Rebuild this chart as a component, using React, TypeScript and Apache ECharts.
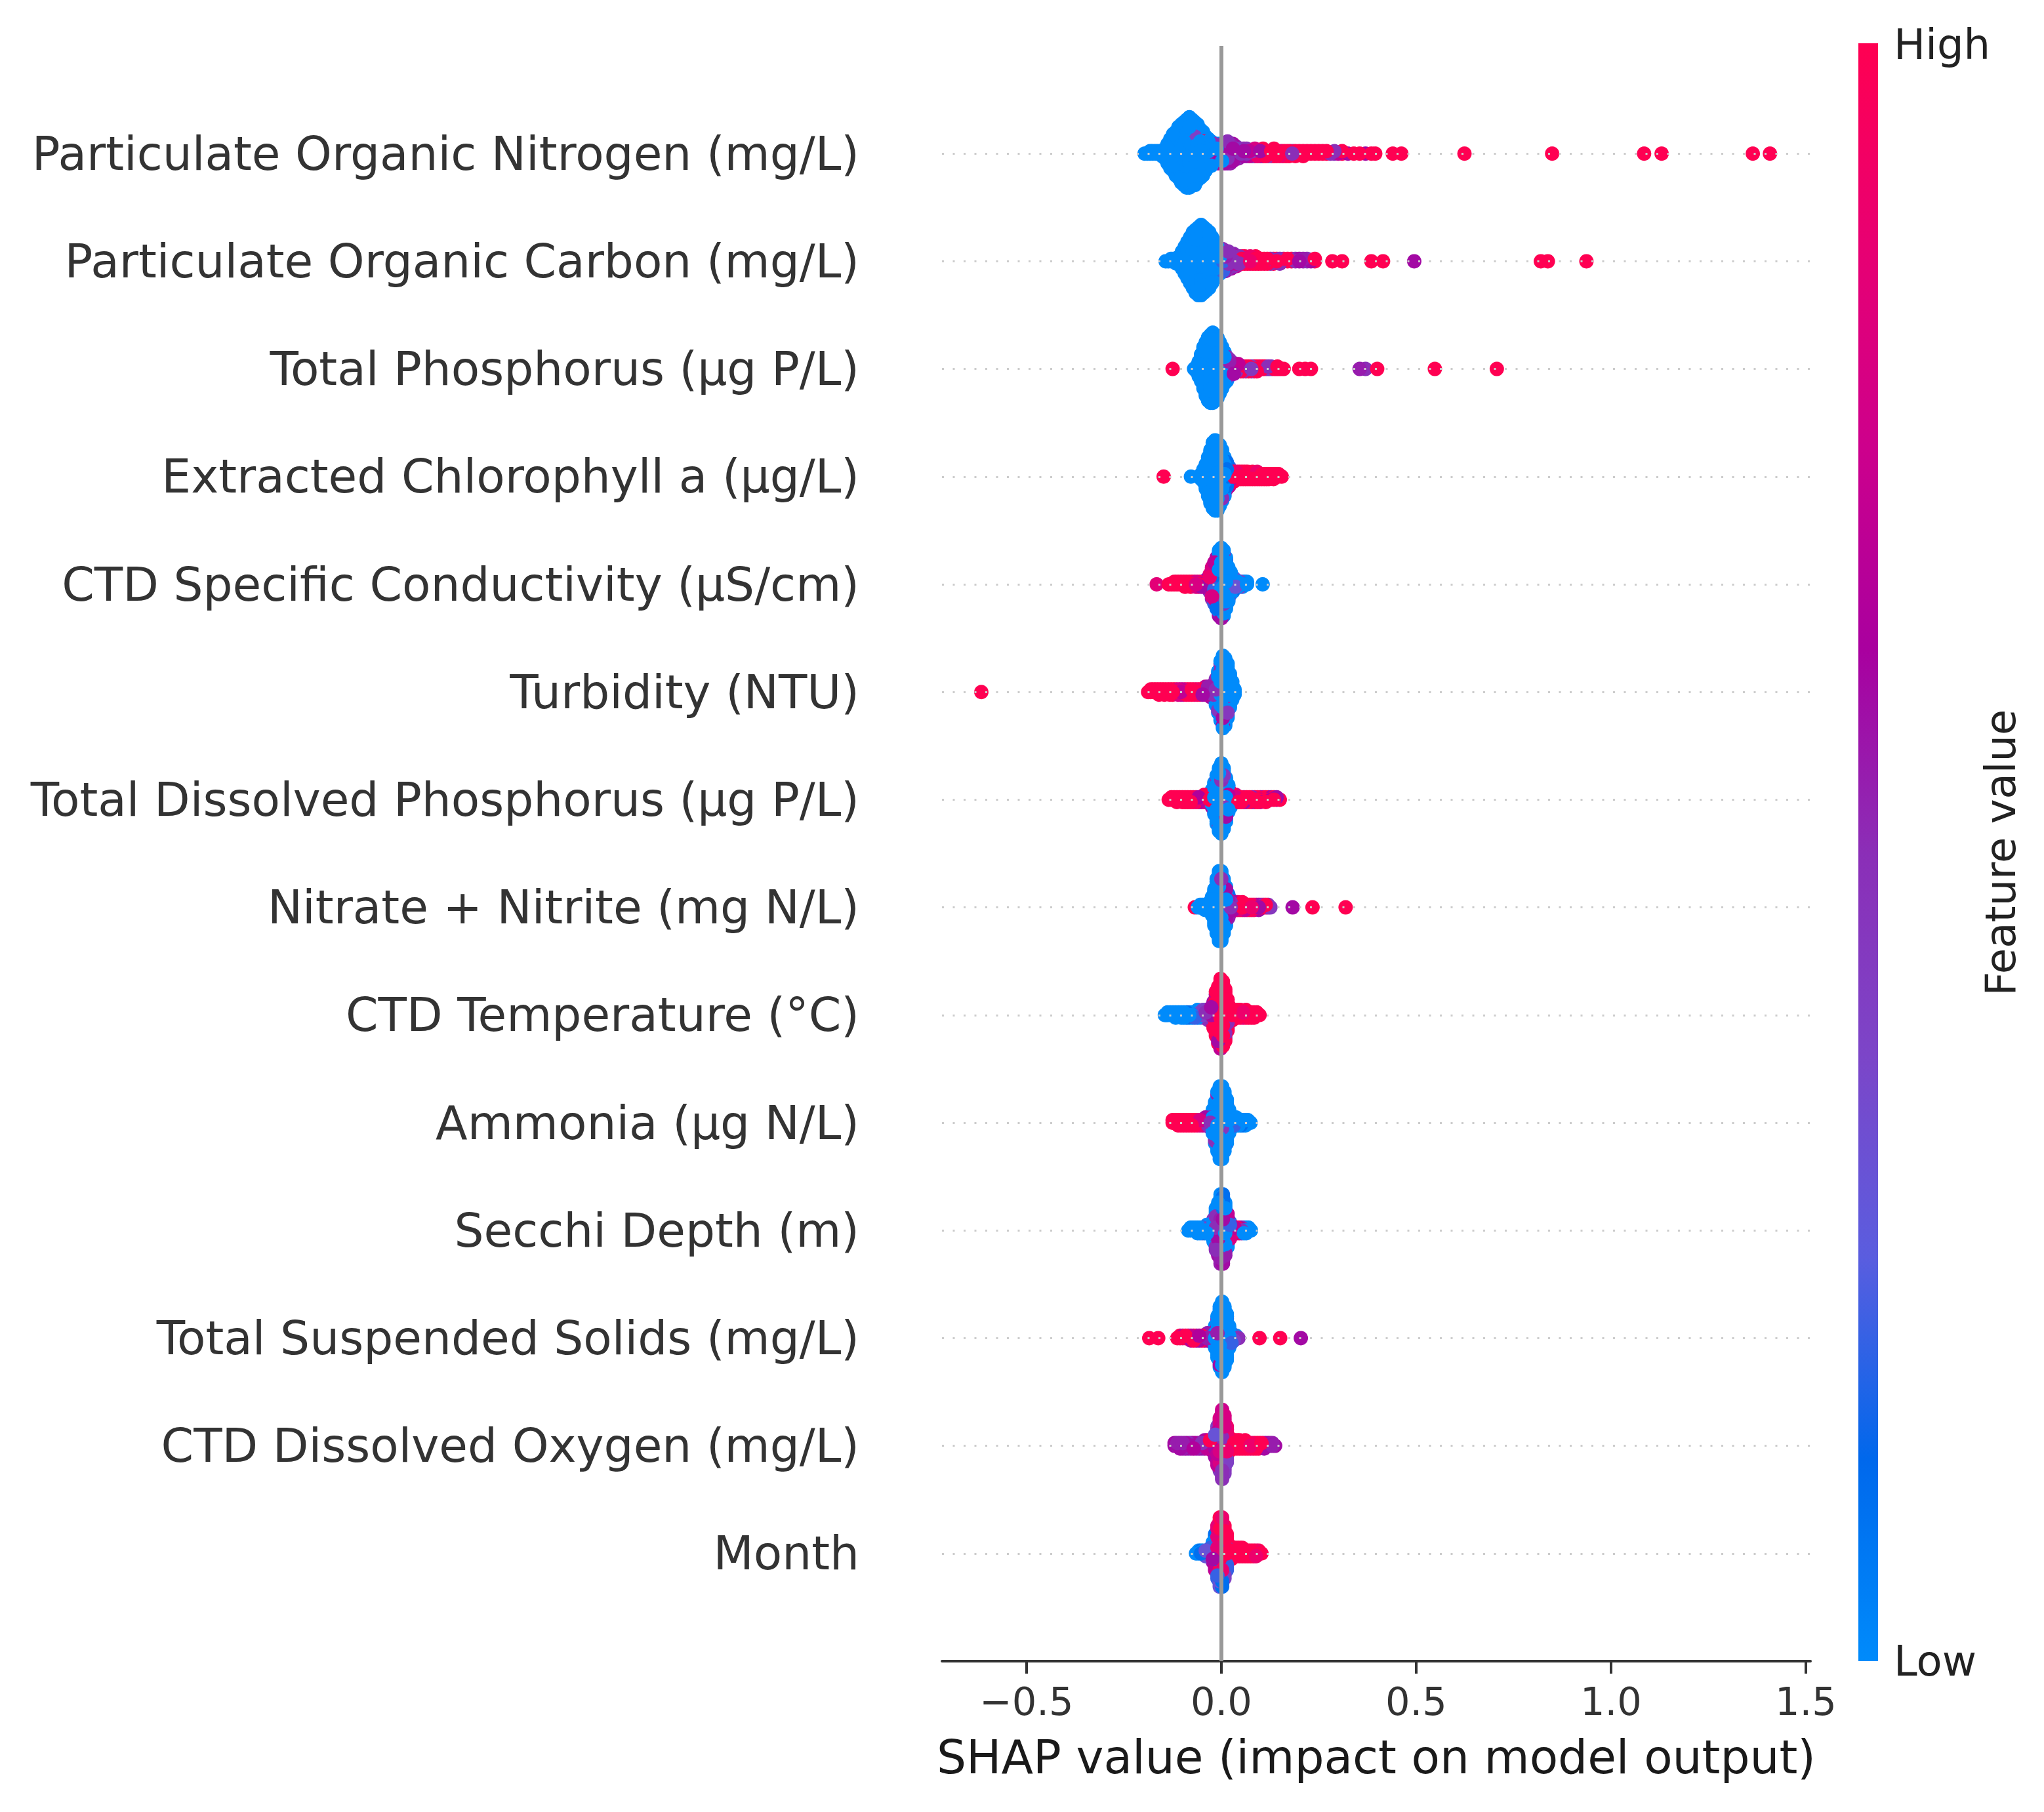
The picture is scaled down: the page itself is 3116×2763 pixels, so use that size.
import React, { useEffect, useRef } from 'react';
import * as echarts from 'echarts';

// Feature names, top to bottom
const featureNames: string[] = [
  'Particulate Organic Nitrogen (mg/L)',
  'Particulate Organic Carbon (mg/L)',
  'Total Phosphorus (µg P/L)',
  'Extracted Chlorophyll a (µg/L)',
  'CTD Specific Conductivity (µS/cm)',
  'Turbidity (NTU)',
  'Total Dissolved Phosphorus (µg P/L)',
  'Nitrate + Nitrite (mg N/L)',
  'CTD Temperature (°C)',
  'Ammonia (µg N/L)',
  'Secchi Depth (m)',
  'Total Suspended Solids (mg/L)',
  'CTD Dissolved Oxygen (mg/L)',
  'Month',
];

const xTicks: number[] = [-0.5, 0, 0.5, 1, 1.5];
const xTickLabels: string[] = ['\u22120.5', '0.0', '0.5', '1.0', '1.5'];
const colorLabels: string[] = ['High', 'Low'];

// [SHAP value, number of samples at that value, feature value (0 = low, 1 = high)]
type Stack = [number, number, number];

const ponStacks: Stack[] = [
  [-0.197,1,0],[-0.19,1,0],[-0.183,2,0],[-0.176,2,0],[-0.168,2,0],[-0.16,2,0],[-0.152,3,0],[-0.145,5,0],[-0.138,9,0],[-0.131,13,0],[-0.124,16,0],[-0.117,19,0],[-0.11,22,0],[-0.103,25,0],[-0.096,27,0],[-0.089,29,0],[-0.082,29,0],[-0.082,1,0.45],[-0.075,28,0],[-0.068,26,0],[-0.068,1,0.4],[-0.061,24,0],[-0.054,21,0],[-0.047,18,0],[-0.047,1,1],[-0.04,15,0],[-0.033,12,0],[-0.026,10,0],[-0.026,1,0.6],
  [-0.019,6,0],[-0.019,3,0.5],[-0.012,4,0],[-0.012,5,0.55],[-0.005,3,0],[-0.005,6,0.6],[0.002,2,0],[0.002,7,0.5],[0.009,2,0.2],[0.009,7,0.6],[0.016,8,0.5],[0.016,2,0.7],[0.023,9,0.55],[0.03,8,0.6],[0.037,6,0.45],[0.044,5,0.55],[0.051,4,0.5],[0.058,4,0.6],
  [0.065,4,0.5],[0.072,3,0.7],[0.079,3,0.45],[0.086,4,0.8],[0.093,3,0.9],[0.1,3,0.6],[0.107,4,1],[0.114,3,1],[0.121,3,0.45],[0.128,3,1],[0.135,4,1],[0.142,3,1],[0.15,3,0.9],[0.158,3,1],[0.166,3,1],[0.174,3,1],[0.182,2,0.5],[0.19,3,1],[0.2,2,1],[0.21,3,1],[0.22,2,1],[0.23,2,1],[0.24,2,1],[0.25,2,1],[0.26,2,1],[0.27,2,1],[0.28,1,0.5],[0.29,2,0.5],[0.3,1,0.7],[0.31,2,1],[0.325,1,0.6],[0.34,1,1],[0.355,1,1],[0.37,1,0.6],[0.385,1,1],[0.395,1,1],[0.44,1,1],[0.462,1,1],[0.624,1,1],[0.849,1,1],[1.085,1,1],[1.13,1,1],[1.364,1,1],[1.408,1,1],
];

const pocStacks: Stack[] = [
  [-0.143,1,0],[-0.136,1,0],[-0.129,2,0],[-0.122,2,0],[-0.115,3,0],[-0.108,4,0],[-0.101,8,0],[-0.094,12,0],[-0.087,16,0],[-0.08,20,0],[-0.073,24,0],[-0.066,27,0],[-0.059,29,0],[-0.052,29,0],[-0.052,1,0.45],[-0.045,28,0],[-0.038,26,0],[-0.031,23,0],[-0.031,1,0.5],[-0.024,20,0],[-0.017,14,0],[-0.017,2,0.5],[-0.01,10,0],[-0.01,3,0.5],[-0.003,7,0],[-0.003,4,0.45],[0.004,5,0.2],[0.004,5,0.5],[0.011,3,0],[0.011,6,0.55],[0.018,8,0.5],[0.025,7,0.6],[0.032,6,0.5],[0.039,5,0.7],[0.046,4,0.5],
  [0.053,4,1],[0.06,4,1],[0.067,3,1],[0.074,4,0.9],[0.081,3,1],[0.088,4,1],[0.095,3,1],[0.102,3,1],[0.11,3,1],[0.118,3,1],[0.126,3,0.5],[0.134,3,1],[0.142,2,1],[0.15,3,0.5],[0.16,2,1],[0.17,2,1],[0.18,2,1],[0.19,2,0.5],[0.2,2,0.6],[0.21,2,0.55],[0.22,2,0.5],[0.23,1,0.6],[0.24,2,1],[0.285,1,1],[0.31,1,1],[0.385,1,1],[0.415,1,1],[0.495,1,0.6],[0.82,1,1],[0.838,1,1],[0.937,1,1],
];

const tpStacks: Stack[] = [
  [-0.125,1,1],[-0.07,1,0],[-0.064,3,0],[-0.058,7,0],[-0.052,12,0],[-0.046,18,0],[-0.04,23,0],[-0.034,27,0],[-0.028,29,0],[-0.022,30,0],[-0.016,28,0],[-0.01,25,0],[-0.01,1,0.5],[-0.004,21,0],[-0.004,1,0.5],[0.002,16,0],[0.002,2,0.45],[0.008,11,0],[0.008,3,0.5],[0.014,7,0],[0.014,4,0.5],[0.02,4,0.2],[0.02,4,0.55],[0.026,5,0.5],[0.026,1,1],[0.032,5,0.6],[0.038,4,0.5],[0.044,4,0.7],
  [0.05,3,1],[0.056,3,0.5],[0.063,3,1],[0.07,3,1],[0.077,3,0.45],[0.084,3,1],[0.091,3,1],[0.098,2,0.9],[0.105,2,1],[0.112,2,1],[0.12,2,0.5],[0.128,2,0.45],[0.136,1,1],[0.144,2,1],[0.152,1,1],[0.16,1,1],[0.2,1,1],[0.215,1,1],[0.23,1,1],[0.355,1,0.55],[0.37,1,0.5],[0.4,1,1],[0.548,1,1],[0.707,1,1],
];

const chlStacks: Stack[] = [
  [-0.148,1,1],[-0.078,1,0],[-0.058,1,0],[-0.052,3,0],[-0.046,6,0],[-0.04,11,0],[-0.034,17,0],[-0.028,23,0],[-0.022,28,0],[-0.016,30,0],[-0.01,28,0],[-0.01,1,0.45],[-0.004,24,0],[-0.004,2,0.5],[0.002,19,0],[0.002,3,0.5],[0.008,13,0],[0.008,4,0.55],[0.014,8,0.1],[0.014,4,0.6],[0.02,4,0.2],[0.02,5,0.7],
  [0.026,5,0.85],[0.032,5,1],[0.038,4,0.9],[0.044,4,1],[0.05,4,1],[0.056,4,1],[0.062,4,1],[0.068,4,1],[0.074,3,1],[0.08,4,1],[0.086,3,1],[0.092,4,0.9],[0.098,3,1],[0.104,3,1],[0.11,3,1],[0.116,3,1],[0.122,3,1],[0.128,2,1],[0.134,3,1],[0.14,2,1],[0.147,2,1],[0.155,1,1],
];

const condStacks: Stack[] = [
  [-0.166,1,0.85],[-0.135,1,1],[-0.128,1,1],[-0.121,2,1],[-0.114,2,1],[-0.107,2,1],[-0.1,2,1],[-0.093,3,1],[-0.086,2,1],[-0.079,3,1],[-0.072,2,1],[-0.065,3,0.8],[-0.058,3,1],[-0.051,3,0.6],[-0.044,3,0.7],[-0.038,4,0.65],
  [-0.03,6,0.9],[-0.03,2,0.5],[-0.024,10,0.8],[-0.024,4,0.5],[-0.018,12,0.7],[-0.018,6,0.2],[-0.012,12,0.6],[-0.012,10,0.1],[-0.006,10,0.6],[-0.006,18,0],[0.0,8,0.6],[0.0,22,0],[0.006,6,0.5],[0.006,22,0],[0.012,4,0.6],[0.012,18,0],[0.018,3,0.5],[0.018,12,0],[0.024,2,0.55],[0.024,8,0],
  [0.03,6,0.1],[0.03,1,0.6],[0.036,4,0.3],[0.042,3,0],[0.048,3,0.4],[0.054,3,0],[0.06,2,0.1],[0.066,2,0],[0.106,1,0],
];

const turbStacks: Stack[] = [
  [-0.616,1,1],[-0.188,1,1],[-0.181,2,1],[-0.174,2,1],[-0.167,2,1],[-0.16,3,1],[-0.153,2,1],[-0.146,3,1],[-0.139,2,1],[-0.132,3,1],[-0.125,3,1],[-0.118,2,1],[-0.111,3,0.8],[-0.104,3,0.7],[-0.097,3,0.8],[-0.09,3,1],[-0.083,3,1],[-0.076,3,1],[-0.069,3,0.9],[-0.062,3,1],[-0.055,3,1],[-0.048,3,0.6],[-0.041,4,0.7],[-0.034,4,0.55],[-0.027,5,0.6],[-0.02,6,0.5],
  [-0.014,8,0],[-0.014,3,0.5],[-0.008,14,0],[-0.008,3,0.45],[-0.002,20,0],[-0.002,4,0.5],[0.004,24,0],[0.004,5,0.6],[0.01,24,0],[0.01,3,0.5],[0.016,20,0],[0.016,2,0.45],[0.022,14,0],[0.028,8,0],[0.034,3,0],
];

const tdpStacks: Stack[] = [
  [-0.135,1,1],[-0.128,2,1],[-0.121,2,1],[-0.114,3,1],[-0.107,2,1],[-0.1,3,1],[-0.093,3,1],[-0.086,3,1],[-0.079,3,1],[-0.072,3,0.9],[-0.065,3,1],[-0.058,3,0.65],[-0.051,3,0.8],[-0.044,4,1],[-0.037,4,0.7],[-0.03,4,1],
  [-0.024,6,0],[-0.024,2,0.6],[-0.018,12,0],[-0.018,2,0.5],[-0.012,18,0],[-0.012,3,0.45],[-0.006,24,0],[-0.006,3,0.5],[0.0,27,0],[0.0,3,0.5],[0.006,24,0],[0.006,2,0.45],[0.012,17,0],[0.012,2,0.6],[0.018,10,0],[0.018,2,0.7],[0.024,5,0],[0.024,2,1],
  [0.03,4,1],[0.037,4,0.8],[0.044,3,1],[0.051,3,1],[0.058,3,0.6],[0.065,3,1],[0.072,3,1],[0.079,3,0.55],[0.086,3,1],[0.093,3,1],[0.1,3,0.7],[0.107,2,1],[0.114,3,1],[0.121,2,0.6],[0.128,2,0.65],[0.135,2,1],[0.142,2,0.6],[0.15,1,1],
];

const nitrateStacks: Stack[] = [
  [-0.068,1,1],[-0.06,1,0],[-0.054,2,0],[-0.048,2,0],[-0.042,3,0],[-0.036,3,0],[-0.03,4,0],[-0.024,8,0],[-0.018,15,0],[-0.012,22,0],[-0.006,27,0],[-0.006,1,0.45],[0.0,26,0],[0.0,2,0.5],[0.006,20,0],[0.006,2,0.5],[0.012,13,0],[0.012,3,0.6],[0.018,7,0.1],[0.018,3,0.55],
  [0.024,4,0.5],[0.024,2,1],[0.03,4,0.6],[0.036,4,1],[0.042,4,0.85],[0.048,3,1],[0.054,4,1],[0.06,3,0.7],[0.066,3,1],[0.072,3,1],[0.078,3,0.9],[0.084,3,1],[0.09,2,1],[0.096,3,0.6],[0.102,2,1],[0.108,2,0.5],[0.114,2,1],[0.12,2,0.5],[0.126,1,0.45],[0.183,1,0.6],[0.234,1,1],[0.319,1,1],
];

const tempStacks: Stack[] = [
  [-0.145,1,0],[-0.138,2,0],[-0.131,2,0],[-0.124,2,0],[-0.117,3,0],[-0.11,2,0],[-0.103,3,0],[-0.096,3,0],[-0.089,3,0.1],[-0.082,3,0],[-0.075,3,0],[-0.068,3,0.2],[-0.061,4,0],[-0.054,3,0.3],[-0.047,4,0.4],[-0.04,4,0.5],[-0.033,5,0.45],[-0.026,6,0.6],
  [-0.02,8,1],[-0.02,3,0.6],[-0.014,14,1],[-0.014,4,0.6],[-0.008,18,1],[-0.008,5,0.6],[-0.002,20,1],[-0.002,8,0.7],[0.004,20,1],[0.004,6,0.6],[0.01,16,1],[0.01,5,0.5],[0.016,10,1],[0.016,3,0.5],[0.022,6,1],
  [0.028,5,1],[0.035,4,1],[0.042,4,1],[0.049,4,1],[0.056,3,0.9],[0.063,4,1],[0.07,3,1],[0.077,3,1],[0.084,3,1],[0.091,2,1],[0.098,1,1],
];

const ammoniaStacks: Stack[] = [
  [-0.125,2,1],[-0.118,2,1],[-0.111,3,1],[-0.104,3,1],[-0.097,3,1],[-0.09,3,1],[-0.083,3,1],[-0.076,3,1],[-0.069,3,1],[-0.062,3,0.9],[-0.055,3,0.8],[-0.048,3,0.7],[-0.041,4,0.6],[-0.034,4,0.5],[-0.028,5,0.5],
  [-0.022,8,0],[-0.022,2,0.5],[-0.016,14,0],[-0.016,3,0.5],[-0.01,20,0],[-0.01,4,0.55],[-0.004,25,0],[-0.004,4,0.5],[0.002,26,0],[0.002,3,0.45],[0.008,22,0],[0.008,2,0.5],[0.014,16,0],[0.014,2,0.6],[0.02,10,0],
  [0.026,5,0],[0.032,4,0.2],[0.038,4,0],[0.044,3,0],[0.05,3,0.1],[0.056,3,0],[0.062,3,0],[0.068,2,0],[0.075,1,0],
];

const secchiStacks: Stack[] = [
  [-0.085,1,0],[-0.079,2,0],[-0.073,2,0],[-0.067,2,0],[-0.061,3,0],[-0.055,3,0],[-0.049,3,0.2],[-0.043,3,0],[-0.037,4,0],[-0.031,4,0.4],[-0.025,5,0],
  [-0.02,6,0],[-0.02,3,0.5],[-0.014,10,0],[-0.014,6,0.5],[-0.008,12,0],[-0.008,8,0.6],[-0.002,14,0],[-0.002,12,0.55],[0.004,14,0.1],[0.004,12,0.6],[0.01,12,0],[0.01,8,0.55],[0.016,8,0],[0.016,5,0.7],[0.022,4,0.8],[0.022,3,0.2],
  [0.028,3,1],[0.034,3,0.7],[0.04,3,1],[0.046,3,0.6],[0.052,3,0.5],[0.058,3,0],[0.064,3,0],[0.07,2,0],[0.076,1,0],
];

const tssStacks: Stack[] = [
  [-0.185,1,1],[-0.162,1,1],[-0.113,1,1],[-0.106,2,1],[-0.099,2,0.7],[-0.092,2,1],[-0.085,2,0.65],[-0.078,3,0.7],[-0.071,3,1],[-0.064,3,0.6],[-0.057,3,0.65],[-0.05,3,1],[-0.043,3,0.6],[-0.036,4,0.55],[-0.029,4,0.7],[-0.022,5,0.6],
  [-0.016,8,0],[-0.016,2,0.5],[-0.01,15,0],[-0.01,3,0.55],[-0.004,22,0],[-0.004,4,0.6],[0.002,26,0],[0.002,4,0.5],[0.008,24,0],[0.008,2,0.45],[0.014,18,0],[0.014,2,0.5],[0.02,10,0],[0.026,5,0.2],[0.032,3,0.4],[0.038,2,0],[0.044,1,0.5],
  [0.098,1,1],[0.151,1,1],[0.204,1,0.6],
];

const doStacks: Stack[] = [
  [-0.12,2,0.6],[-0.113,2,0.55],[-0.106,3,0.6],[-0.099,3,0.55],[-0.092,3,0.6],[-0.085,3,0.5],[-0.078,3,0.6],[-0.071,3,0.65],[-0.064,3,0.55],[-0.057,3,0.6],[-0.05,3,0.5],[-0.043,4,0.6],[-0.036,4,0.7],[-0.029,4,1],[-0.022,5,0.8],
  [-0.016,6,0.6],[-0.016,3,0.3],[-0.01,10,0.7],[-0.01,5,0.4],[-0.004,12,0.8],[-0.004,8,0.45],[0.002,14,0.75],[0.002,12,0.5],[0.008,12,0.8],[0.008,10,0.45],[0.014,8,0.9],[0.014,6,0.4],[0.02,6,1],
  [0.026,4,1],[0.033,4,1],[0.04,4,1],[0.047,4,1],[0.054,3,1],[0.061,4,1],[0.068,3,1],[0.075,3,0.9],[0.082,3,1],[0.089,3,1],[0.096,3,1],[0.103,2,1],[0.11,3,0.6],[0.117,2,0.55],[0.124,2,0.6],[0.131,2,0.55],[0.138,1,0.6],
];

const monthStacks: Stack[] = [
  [-0.065,1,0],[-0.058,2,0],[-0.052,2,0.1],[-0.046,2,0],[-0.04,3,0.3],[-0.034,3,0.5],[-0.028,4,0.2],
  [-0.022,5,0],[-0.022,3,0.6],[-0.016,8,0.1],[-0.016,6,0.7],[-0.01,10,0.2],[-0.01,10,0.85],[-0.004,12,0.3],[-0.004,14,1],[0.002,12,0.1],[0.002,14,0.9],[0.008,10,0.4],[0.008,10,1],[0.014,6,0.2],[0.014,8,1],[0.02,6,1],
  [0.026,5,1],[0.033,4,1],[0.04,4,1],[0.047,4,1],[0.054,4,1],[0.061,3,1],[0.068,3,1],[0.075,3,1],[0.082,3,1],[0.089,3,0.9],[0.096,2,1],[0.103,1,1],
];

const rowStacks: Stack[][] = [
  ponStacks, pocStacks, tpStacks, chlStacks, condStacks, turbStacks, tdpStacks,
  nitrateStacks, tempStacks, ammoniaStacks, secchiStacks, tssStacks, doStacks, monthStacks,
];

// SHAP red-blue colour map (low -> high)
const colorStops: string[] = ['#008bfb', '#0068ec', '#5a5ddf', '#7c45c8', '#8b2eb7', '#a9009f', '#cd008c', '#e80072', '#ff0052'];

// Beeswarm layout: stack samples sharing a SHAP value, alternating above/below the row line
function swarm(stacks: Stack[], rowPos: number): number[][] {
  const groups = new Map<number, { feat: number; key: number }[]>();
  const order: number[] = [];
  for (const [x, n, f] of stacks) {
    if (!groups.has(x)) { groups.set(x, []); order.push(x); }
    const g = groups.get(x)!;
    for (let j = 0; j < n; j++) g.push({ feat: f, key: (j + 0.5) / n });
  }
  const pts: { x: number; ys: number; feat: number }[] = [];
  let maxY = 1;
  for (const x of order) {
    const g = groups.get(x)!;
    g.sort((a, b) => a.key - b.key);
    g.forEach((p, k) => {
      const ys = Math.ceil(k / 2) * ((k % 2) * 2 - 1);
      pts.push({ x, ys, feat: p.feat });
      if (ys + 1 > maxY) maxY = ys + 1;
    });
  }
  const scale = (0.9 * 0.4) / maxY;
  const out = pts.map((p) => [p.x, rowPos + p.ys * scale, p.feat]);
  // deterministic interleaved draw order
  const keyed = out.map((d, i) => ({ d, k: (i * 0.6180339887) % 1 }));
  keyed.sort((a, b) => a.k - b.k);
  return keyed.map((e) => e.d);
}

export default function App() {
  const ref = useRef<HTMLDivElement>(null);

  useEffect(() => {
    if (!ref.current) return;
    const chart = echarts.init(ref.current, undefined, { renderer: 'svg' });
    const nRows = featureNames.length;
    const points: number[][] = [];
    rowStacks.forEach((st, i) => {
      points.push(...swarm(st, nRows - 1 - i));
    });

    const font = 'DejaVu Sans';
    const rowLines = featureNames.map((_, i) => ({
      yAxis: nRows - 1 - i,
      lineStyle: { color: '#cccccc', width: 3, type: [3, 13.5] as any },
    }));

    const option: any = {
      animation: false,
      backgroundColor: '#ffffff',
      grid: { left: 1436, right: 356, top: 70, bottom: 230, outerBoundsMode: 'none' },
      xAxis: {
        type: 'value',
        min: -0.717,
        max: 1.512,
        name: 'SHAP value (impact on model output)',
        nameLocation: 'middle',
        nameGap: 111,
        nameTextStyle: { fontSize: 71, color: '#1a1a1a', fontFamily: font },
        axisLine: { show: true, onZero: false, lineStyle: { color: '#333333', width: 4 } },
        axisTick: { show: true, length: 19, lineStyle: { color: '#333333', width: 4 }, customValues: xTicks },
        axisLabel: {
          customValues: xTicks,
          fontSize: 59,
          color: '#333333',
          fontFamily: font,
          margin: 32,
          formatter: (v: number) => {
            const idx = xTicks.findIndex((t) => Math.abs(t - v) < 1e-9);
            return idx >= 0 ? xTickLabels[idx] : '';
          },
        },
        splitLine: { show: false },
      },
      yAxis: {
        type: 'value',
        min: -1,
        max: nRows,
        interval: 1,
        axisLine: { show: false, onZero: false },
        axisTick: { show: false },
        splitLine: { show: false },
        axisLabel: {
          fontSize: 71,
          color: '#333333',
          fontFamily: font,
          margin: 126,
          formatter: (v: number) => {
            const i = nRows - 1 - Math.round(v);
            return i >= 0 && i < nRows ? featureNames[i] : '';
          },
        },
      },
      visualMap: {
        type: 'continuous',
        show: false,
        min: 0,
        max: 1,
        dimension: 2,
        seriesIndex: 1,
        inRange: { color: colorStops },
      },
      series: [
        {
          type: 'scatter',
          data: [],
          z: 1,
          silent: true,
          markLine: {
            silent: true,
            symbol: ['none', 'none'],
            label: { show: false },
            animation: false,
            data: [
              ...rowLines,
              { xAxis: 0, lineStyle: { color: '#999999', width: 6, type: 'solid' } },
            ],
          },
        },
        {
          type: 'scatter',
          data: points,
          z: 2,
          symbol: 'circle',
          symbolSize: 22,
          progressive: 0,
          large: false,
          itemStyle: { opacity: 1, borderWidth: 0 },
          silent: true,
        },
      ],
      graphic: [
        {
          type: 'rect',
          shape: { x: 2833, y: 66, width: 30, height: 2467 },
          style: {
            fill: new echarts.graphic.LinearGradient(0, 0, 0, 1,
              colorStops.slice().reverse().map((c, i, arr) => ({ offset: i / (arr.length - 1), color: c }))),
          },
          silent: true,
        },
        {
          type: 'text',
          x: 2887, y: 68,
          style: { text: colorLabels[0], fontSize: 64, fontFamily: font, fill: '#222222', align: 'left', verticalAlign: 'middle' },
        },
        {
          type: 'text',
          x: 2887, y: 2533,
          style: { text: colorLabels[1], fontSize: 64, fontFamily: font, fill: '#222222', align: 'left', verticalAlign: 'middle' },
        },
        {
          type: 'text',
          x: 3050, y: 1300,
          rotation: Math.PI / 2,
          style: { text: 'Feature value', fontSize: 64, fontFamily: font, fill: '#222222', align: 'center', verticalAlign: 'middle' },
        },
      ],
    };

    chart.setOption(option);
    return () => chart.dispose();
  }, []);

  return (
    <div
      ref={ref}
      style={{ position: 'absolute', left: 0, top: 0, width: '3116px', height: '2763px', background: '#fff' }}
    />
  );
}
